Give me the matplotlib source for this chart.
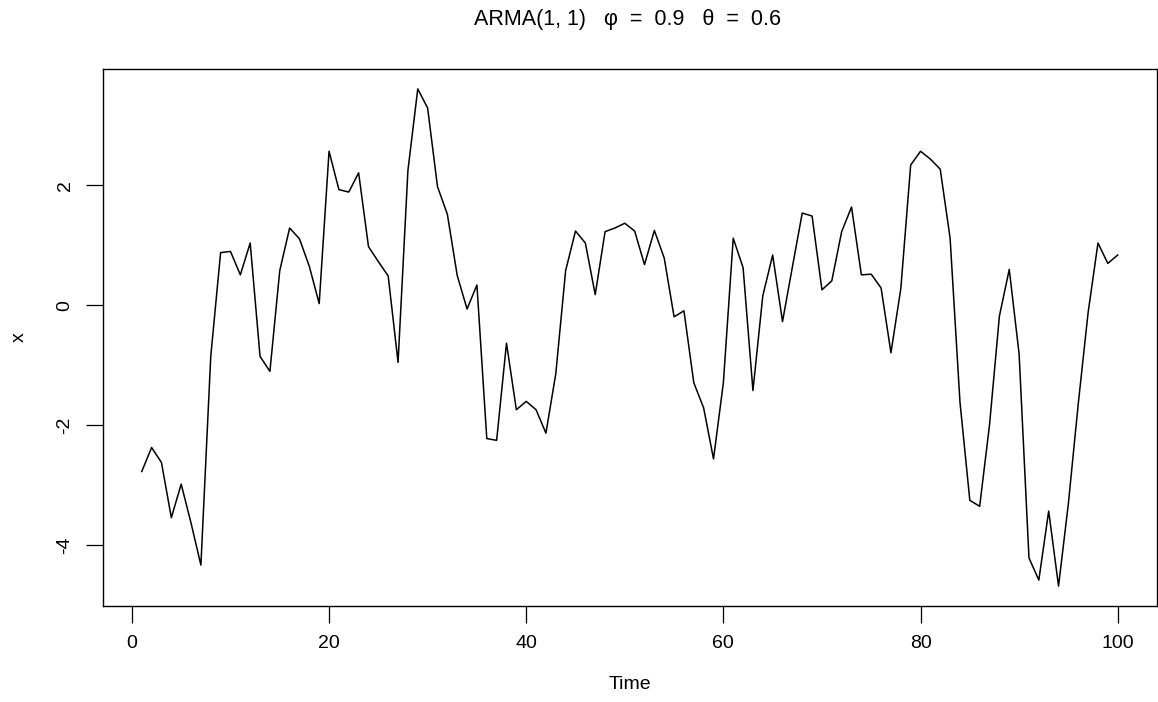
import matplotlib.pyplot as plt
import numpy as np

plt.rcParams['font.family'] = ['Liberation Sans', 'DejaVu Sans']

# simulated ARMA(1,1) series
time = np.arange(1, 101)
x = [
    -2.77, -2.37, -2.62, -3.54, -2.98, -3.63, -4.33, -0.85, 0.88, 0.90,
    0.51, 1.04, -0.85, -1.10, 0.58, 1.29, 1.11, 0.65, 0.03, 2.57,
    1.93, 1.89, 2.21, 0.98, 0.73, 0.49, -0.95, 2.25, 3.61, 3.29,
    1.98, 1.52, 0.50, -0.06, 0.34, -2.22, -2.25, -0.63, -1.74, -1.60,
    -1.74, -2.13, -1.14, 0.58, 1.24, 1.04, 0.18, 1.23, 1.29, 1.37,
    1.24, 0.68, 1.25, 0.79, -0.19, -0.09, -1.29, -1.71, -2.56, -1.29,
    1.12, 0.63, -1.42, 0.16, 0.84, -0.27, 0.64, 1.54, 1.49, 0.26,
    0.41, 1.23, 1.64, 0.51, 0.52, 0.29, -0.79, 0.28, 2.34, 2.57,
    2.44, 2.27, 1.12, -1.61, -3.25, -3.35, -1.99, -0.18, 0.60, -0.81,
    -4.21, -4.58, -3.43, -4.68, -3.30, -1.64, -0.12, 1.04, 0.70, 0.84,
]
xticks = [0, 20, 40, 60, 80, 100]
yticks = [-4, -2, 0, 2]
title = "ARMA(1, 1)   \u03c6  =  0.9   \u03b8  =  0.6"

W, H = 1158, 702
fig = plt.figure(figsize=(W / 100, H / 100), dpi=100)
ax = fig.add_axes([0.0887, 0.1368, 0.9102, 0.7649])

ax.plot(time, x, color="black", linewidth=1.1)

# R style: 4% padding on both axes
xr = time.max() - time.min()
ax.set_xlim(time.min() - 0.04 * xr, time.max() + 0.04 * xr)
yr = max(x) - min(x)
ax.set_ylim(min(x) - 0.04 * yr, max(x) + 0.04 * yr)

ax.set_xticks(xticks)
ax.set_yticks(yticks)
ax.set_yticklabels([str(v) for v in yticks], rotation=90, va="center")
ax.tick_params(direction="out", length=12, width=0.9, labelsize=14, pad=9)

for s in ax.spines.values():
    s.set_linewidth(1.0)

ax.set_xlabel("Time", fontsize=14, labelpad=17)
ax.set_ylabel("x", fontsize=14, labelpad=21)

fig.text(628 / W, 1 - 20 / H, title, ha="center", va="center", fontsize=15.5)

plt.savefig("out.png", dpi=100)
plt.close()
